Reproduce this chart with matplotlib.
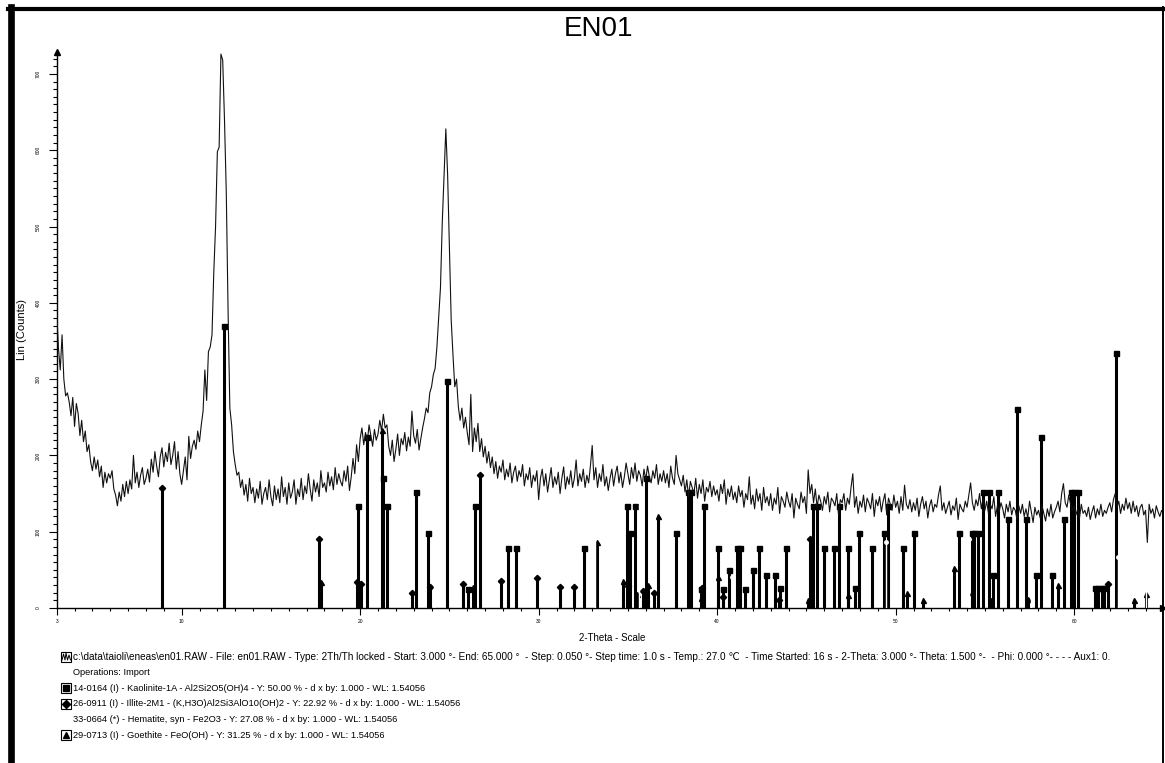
import numpy as np
import matplotlib.pyplot as plt
from matplotlib.lines import Line2D
from matplotlib.patches import Rectangle

plt.rcParams["font.family"] = ["Liberation Sans", "DejaVu Sans"]

# === DATA
# Scan (0.1 deg spacing, 3.0 .. 65.0)
scan_start = 3.0
scan_step = 0.1
counts = [
    388, 340, 312, 358, 300, 278, 282, 270, 252, 276,  # 3
    238, 268, 255, 226, 246, 218, 232, 205, 214, 192,  # 4
    180, 198, 182, 194, 172, 186, 158, 178, 164, 176,  # 5
    170, 180, 156, 148, 134, 152, 140, 162, 146, 166,  # 6
    150, 168, 156, 200, 164, 178, 158, 174, 184, 162,  # 7
    170, 182, 165, 195, 178, 205, 186, 172, 198, 210,  # 8
    185, 204, 192, 216, 188, 200, 218, 182, 205, 176,  # 9
    162, 180, 198, 168, 225, 196, 212, 220, 208, 232,  # 10
    218, 240, 258, 312, 272, 336, 342, 358, 440, 500,  # 11
    598, 604, 726, 718, 640, 545, 390, 262, 240, 205,  # 12
    188, 174, 178, 158, 168, 148, 162, 140, 170, 150,  # 13
    158, 138, 156, 144, 166, 136, 150, 158, 142, 168,  # 14
    146, 134, 160, 142, 156, 138, 172, 146, 158, 136,  # 15
    164, 144, 152, 168, 136, 156, 146, 170, 142, 160,  # 16
    150, 176, 156, 140, 168, 152, 164, 146, 180, 158,  # 17
    164, 152, 178, 160, 172, 155, 184, 162, 176, 166,  # 18
    160, 180, 166, 186, 154, 172, 196, 176, 214, 192,  # 19
    222, 236, 214, 230, 218, 240, 226, 212, 234, 220,  # 20
    228, 246, 232, 254, 236, 240, 212, 200, 220, 192,  # 21
    208, 228, 200, 222, 214, 230, 206, 224, 212, 258,  # 22
    226, 216, 234, 207, 222, 236, 248, 262, 256, 282,  # 23
    290, 306, 314, 342, 382, 420, 505, 565, 628, 568,  # 24
    470, 378, 332, 290, 300, 264, 246, 262, 236, 250,  # 25
    230, 214, 280, 205, 236, 218, 242, 205, 222, 198,  # 26
    212, 190, 205, 184, 198, 176, 192, 170, 186, 178,  # 27
    194, 168, 182, 172, 190, 164, 178, 186, 166, 180,  # 28
    172, 188, 160, 176, 168, 184, 158, 174, 166, 180,  # 29
    142, 170, 182, 160, 176, 152, 168, 184, 158, 172,  # 30
    162, 178, 150, 170, 185, 156, 172, 162, 180, 158,  # 31
    170, 194, 160, 176, 166, 182, 158, 174, 164, 186,  # 32
    213, 168, 184, 158, 176, 166, 188, 160, 172, 154,  # 33
    170, 182, 160, 176, 186, 164, 178, 158, 172, 190,  # 34
    176, 162, 184, 170, 190, 166, 180, 174, 160, 182,  # 35
    168, 186, 172, 164, 180, 170, 188, 162, 176, 166,  # 36
    180, 164, 176, 158, 186, 170, 162, 200, 176, 168,  # 37
    160, 174, 152, 168, 146, 166, 158, 150, 170, 144,  # 38
    162, 150, 168, 140, 158, 152, 166, 146, 160, 148,  # 39
    155, 140, 162, 150, 168, 136, 156, 146, 160, 142,  # 40
    152, 138, 160, 146, 154, 132, 150, 142, 172, 136,  # 41
    148, 130, 156, 140, 150, 128, 158, 138, 146, 134,  # 42
    150, 128, 144, 136, 158, 124, 146, 140, 132, 152,  # 43
    140, 132, 150, 118, 144, 136, 130, 152, 138, 146,  # 44
    124, 181, 150, 162, 138, 156, 132, 148, 140, 128,  # 45
    146, 136, 152, 126, 144, 140, 134, 150, 122, 142,  # 46
    138, 150, 128, 144, 136, 158, 176, 132, 146, 124,  # 47
    140, 132, 148, 126, 144, 138, 130, 150, 120, 142,  # 48
    134, 146, 126, 140, 150, 122, 144, 136, 128, 148,  # 49
    132, 140, 124, 146, 128, 161, 136, 130, 142, 126,  # 50
    138, 128, 144, 120, 136, 146, 130, 140, 118, 134,  # 51
    142, 126, 136, 132, 148, 160, 128, 138, 124, 132,  # 52
    140, 122, 134, 128, 144, 116, 136, 130, 126, 140,  # 53
    132, 148, 164, 138, 128, 142, 134, 150, 130, 144,  # 54
    128, 140, 124, 136, 130, 146, 120, 134, 126, 138,  # 55
    130, 118, 136, 126, 140, 122, 132, 128, 116, 134,  # 56
    124, 136, 120, 130, 118, 140, 126, 112, 132, 122,  # 57
    128, 118, 134, 124, 114, 130, 120, 136, 118, 126,  # 58
    132, 140, 126, 150, 163, 138, 132, 148, 136, 128,  # 59
    134, 122, 130, 118, 136, 124, 128, 120, 132, 116,  # 60
    126, 134, 118, 130, 122, 136, 120, 128, 124, 132,  # 61
    138, 126, 142, 150, 132, 140, 124, 136, 128, 144,  # 62
    130, 138, 124, 140, 126, 134, 120, 132, 136, 122,  # 63
    128, 86, 136, 124, 130, 118, 134, 126, 120, 128,  # 64
    124,
]

# Reference patterns (2-theta, scaled height in counts)
kaol_pos = [12.37, 19.86, 20.36, 21.26, 21.49, 23.13, 23.82, 24.88, 26.06, 26.43,
            28.30, 28.73, 32.52, 34.97, 35.12, 35.42, 36.01, 37.70, 38.37, 38.55,
            39.08, 39.25, 40.02, 40.30, 40.67, 41.10, 41.30, 41.58, 42.01, 42.36,
            42.72, 43.24, 43.52, 43.86, 45.39, 45.61, 45.99, 46.55, 46.83, 47.31,
            47.72, 47.95, 48.69, 49.36, 49.59, 50.43, 51.03, 53.55, 54.26, 54.41,
            54.63, 54.91, 55.25, 55.47, 55.72, 56.31, 56.78, 57.29, 57.86, 58.14,
            58.74, 59.45, 59.83, 60.01, 60.20, 61.17, 61.36, 61.54, 61.70, 62.34]
kaol_int = [370, 134, 224, 170, 134, 152, 98, 297, 25, 134,
            79, 79, 79, 134, 98, 134, 171, 98, 152, 152,
            25, 134, 79, 25, 50, 79, 79, 25, 50, 79,
            43, 43, 26, 79, 134, 134, 79, 79, 134, 79,
            26, 98, 79, 98, 134, 79, 98, 98, 98, 98,
            98, 152, 152, 43, 152, 116, 261, 116, 43, 224,
            43, 116, 152, 152, 152, 26, 26, 26, 26, 334]

illite_pos = [8.88, 17.71, 19.84, 20.05, 22.89, 23.91, 25.78, 26.71, 27.88, 29.90,
              31.20, 31.98, 35.02, 35.83, 36.48, 39.13, 40.30, 43.45, 45.20, 61.88]
illite_int = [157, 90, 34, 31, 20, 28, 32, 174, 36, 39,
              28, 28, 29, 22, 20, 26, 15, 11, 90, 31]

hem_pos = [24.14, 33.15, 35.61, 40.85, 49.48, 54.09, 57.59, 62.45, 64.00]
hem_int = [60, 200, 140, 40, 87, 90, 20, 67, 60]

goe_pos = [17.80, 21.20, 26.34, 33.29, 34.74, 35.50, 36.14, 36.67, 39.10, 40.03,
           41.15, 45.07, 47.31, 50.62, 51.51, 53.28, 54.26, 55.35, 57.43, 59.08,
           63.35, 64.03]
goe_int = [34, 233, 28, 87, 36, 18, 30, 120, 13, 40,
           55, 10, 17, 20, 10, 53, 21, 11, 12, 30,
           11, 18]

legend_lines = [
    "c:\\data\\taioli\\eneas\\en01.RAW - File: en01.RAW - Type: 2Th/Th locked - Start: 3.000 \u00b0- End: 65.000 \u00b0  - Step: 0.050 \u00b0- Step time: 1.0 s - Temp.: 27.0 \u2103  - Time Started: 16 s - 2-Theta: 3.000 \u00b0- Theta: 1.500 \u00b0-  - Phi: 0.000 \u00b0- - - - Aux1: 0.",
    "Operations: Import",
    "14-0164 (I) - Kaolinite-1A - Al2Si2O5(OH)4 - Y: 50.00 % - d x by: 1.000 - WL: 1.54056",
    "26-0911 (I) - Illite-2M1 - (K,H3O)Al2Si3AlO10(OH)2 - Y: 22.92 % - d x by: 1.000 - WL: 1.54056",
    "33-0664 (*) - Hematite, syn - Fe2O3 - Y: 27.08 % - d x by: 1.000 - WL: 1.54056",
    "29-0713 (I) - Goethite - FeO(OH) - Y: 31.25 % - d x by: 1.000 - WL: 1.54056",
]
legend_icons = ["scan", None, "s", "D", None, "^"]

# === PLOT
W, H = 1165, 763
fig = plt.figure(figsize=(W / 100, H / 100), dpi=100)
ax = fig.add_axes([56.7 / W, 1 - 608 / H, (1163.4 - 56.7) / W, 556.2 / H])

two_theta = scan_start + scan_step * np.arange(len(counts))
ax.plot(two_theta, counts, color="#111111", lw=0.8, zorder=5)

# Stick patterns
for pos, hgt, mk in [(kaol_pos, kaol_int, "s"), (illite_pos, illite_int, "D"),
                     (goe_pos, goe_int, "^")]:
    ax.vlines(pos, 0, hgt, color="k", lw=2.2, zorder=3)
    ax.plot(pos, hgt, mk, color="k", ms=3.6 if mk != "D" else 3.2, lw=0, zorder=3)
ax.vlines(hem_pos, 0, hem_int, color="white", lw=1.0, zorder=4)
ax.plot(hem_pos, hem_int, "o", color="white", ms=2.5, lw=0, zorder=4)

ax.set_xlim(3, 65)
ax.set_ylim(0, 729)

# Axes styling
for s in ["top", "right"]:
    ax.spines[s].set_visible(False)
for s in ["left", "bottom"]:
    ax.spines[s].set_linewidth(1.0)
ax.set_xticks([3, 10, 20, 30, 40, 50, 60])
ax.set_xticks(np.arange(4, 65, 1), minor=True)
ax.set_yticks(np.arange(0, 701, 100))
ax.set_yticks(np.arange(10, 730, 10), minor=True)
ax.tick_params(axis="x", which="major", length=5, width=0.8, labelsize=3.5, pad=3)
ax.tick_params(axis="x", which="minor", length=2.4, width=0.8)
ax.tick_params(axis="y", which="major", length=5.5, width=0.8, labelsize=3.5,
               pad=6, labelrotation=90)
ax.tick_params(axis="y", which="minor", length=3.1, width=0.8)
for lab in ax.get_yticklabels():
    lab.set_va("center")

# Arrows at axis ends
ax.plot(0, 1, marker="^", color="k", ms=4, transform=ax.transAxes, clip_on=False)
ax.plot(1, 0, marker=">", color="k", ms=4, transform=ax.transAxes, clip_on=False)

# Axis titles
fig.text(22 / W, 1 - 330 / H, "Lin (Counts)", fontsize=8, rotation=90,
         ha="center", va="center")
fig.text(612 / W, 1 - 638 / H, "2-Theta - Scale", fontsize=7, ha="center", va="center")

# Title
fig.text(598 / W, 1 - 29 / H, "EN01", fontsize=20, ha="center", va="center")

# Frame around figure
fig.add_artist(Line2D([8 / W, 1163 / W], [1 - 8.5 / H, 1 - 8.5 / H], color="k", lw=3,
                      transform=fig.transFigure))
fig.add_artist(Line2D([10.7 / W, 10.7 / W], [1 - 7 / H, 0], color="k", lw=4.8,
                      transform=fig.transFigure))
fig.add_artist(Line2D([1163 / W, 1163 / W], [1 - 7 / H, 0], color="k", lw=1.4,
                      transform=fig.transFigure))

# Legend block (first line is set a touch wider, as in the original)
y0, dy = 657, 15.6
for i, (txt, icon) in enumerate(zip(legend_lines, legend_icons)):
    py = y0 + i * dy
    fig.text(73 / W, 1 - py / H, txt, fontsize=7.2 if i == 0 else 6.7,
             ha="left", va="center")
    if icon is None:
        continue
    bx, by, bs = 61, py - 5, 10
    fig.add_artist(Rectangle((bx / W, 1 - (by + bs) / H), bs / W, bs / H, fill=False,
                             lw=0.8, ec="k", transform=fig.transFigure))
    if icon == "scan":
        zx = [62, 63.5, 65, 66, 67.5, 69, 70.5, 71.5]
        zy = [py + 3, py - 3, py + 3, py - 4, py + 3, py - 2, py + 3, py + 3]
        fig.add_artist(Line2D([v / W for v in zx], [1 - v / H for v in zy], color="k",
                              lw=0.7, transform=fig.transFigure))
    else:
        fig.add_artist(Line2D([(bx + bs / 2) / W], [1 - py / H], marker=icon, color="k",
                              ms=4.5 if icon != "D" else 4, transform=fig.transFigure))

fig.savefig("out.png", dpi=100)
